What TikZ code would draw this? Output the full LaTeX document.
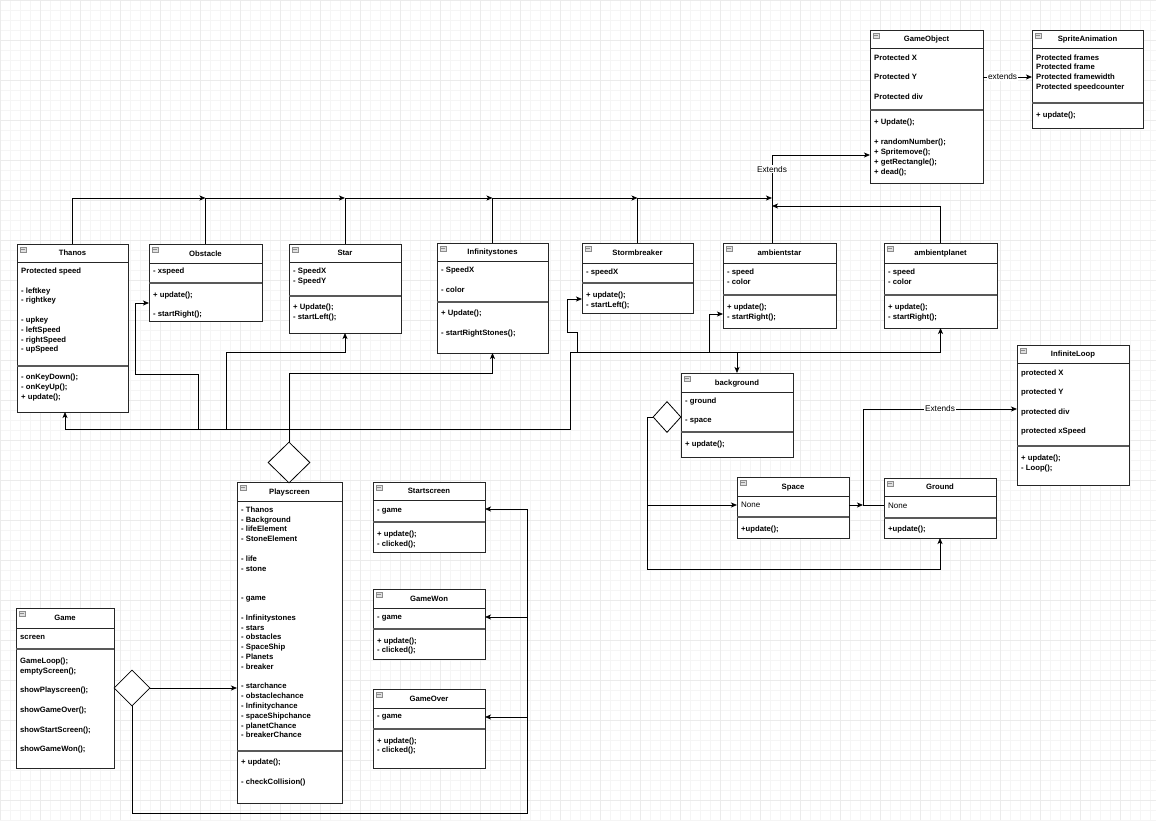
\documentclass[tikz,border=0pt]{standalone}
\usepackage{fontspec}
\setmainfont{Liberation Sans}
\usetikzlibrary{arrows.meta,shapes.geometric}
\tikzset{
  clsbox/.style={draw=black!85, fill=white, line width=0.9pt, inner sep=0pt, outer sep=0pt},
  hdrline/.style={draw=black!85, line width=0.8pt},
  sepline/.style={draw=black!65, line width=1.1pt},
  ttl/.style={font=\fontsize{7.7}{9}\selectfont\bfseries, inner sep=0pt, anchor=base},
  txt/.style={font=\fontsize{7.7}{9}\selectfont\bfseries, inner sep=0pt, anchor=base west},
  txtn/.style={font=\fontsize{8}{9}\selectfont, inner sep=0pt, anchor=base west},
  lbl/.style={font=\fontsize{8.3}{9}\selectfont, fill=white, inner sep=1pt},
  conn/.style={draw=black, line width=0.8pt},
  arr/.style={conn, -{Stealth[length=6pt,width=5pt,inset=1.5pt]}},
  agg/.style={diamond, draw=black, fill=white, line width=0.8pt, inner sep=0pt, aspect=1},
  icon/.style={draw=black!45, fill=black!12, line width=0.4pt},
}
\newcommand\umlclass[8]{%
  \node[clsbox, minimum width={(#4-#2)*1pt}, minimum height={(#5-#3)*1pt}] (#1) at ({(#2+#4)/2},{(#3+#5)/2}) {};
  \draw[hdrline] (#2,#6) -- (#4,#6);
  \draw[sepline] (#2,#7) -- (#4,#7);
  \draw[icon] (#2+3,#3+3) rectangle (#2+9,#3+8);
  \draw[draw=black!45, line width=0.4pt] (#2+4,#3+5.5) -- (#2+8,#3+5.5);
  \node[ttl] (#1-title) at ({(#2+#4)/2},{(#3+#6)/2+2.8}) {#8};
}
\newcommand\umllines[3]{%
  \foreach \ypos/\ltext in {#3} {\node[txt] (#1-l\ypos) at (#2,\ypos+2.8) {\ltext};}
}
\begin{document}
\begin{tikzpicture}[x=1pt,y=-1pt]
\useasboundingbox (0,0) rectangle (1156,820);
\fill[white] (0,0) rectangle (1156,820);
\draw[step=10pt, draw=black!4, line width=0.4pt] (0,0) grid (1156,820);
\draw[step=40pt, draw=black!8, line width=0.4pt] (0,0) grid (1156,820);

% ---------- classes ----------
\umlclass{gameobject}{870}{30}{983}{183}{48}{110}{GameObject}
\umllines{gameobject}{874}{58/Protected X, 77/Protected Y, 97/Protected div, 122/+ Update();, 142/+ randomNumber();, 152/+ Spritemove();, 162/+ getRectangle();, 172/+ dead();}

\umlclass{spriteanim}{1032}{30}{1143}{128}{48}{103}{SpriteAnimation}
\umllines{spriteanim}{1036}{58/Protected frames, 67/Protected frame, 77/Protected framewidth, 87/Protected speedcounter, 115/+ update();}

\umlclass{thanos}{17}{244}{128}{412}{262}{366}{Thanos}
\umllines{thanos}{21}{271/Protected speed, 291/- leftkey, 300/- rightkey, 320/- upkey, 330/- leftSpeed, 340/- rightSpeed, 349/- upSpeed, 377/- onKeyDown();, 387/- onKeyUp();, 397/+ update();}

\umlclass{obstacle}{149}{244}{262}{321}{263}{283}{Obstacle}
\umllines{obstacle}{153}{271/- xspeed, 295/+ update();, 314/- startRight();}

\umlclass{star}{289}{244}{401}{333}{262}{296}{Star}
\umllines{star}{293}{271/- SpeedX, 281/- SpeedY, 307/+ Update();, 317/- startLeft();}

\umlclass{infinity}{437}{243}{548}{353}{261}{302}{Infinitystones}
\umllines{infinity}{441}{270/- SpeedX, 290/- color, 313/+ Update();, 333/- startRightStones();}

\umlclass{storm}{582}{243}{693}{313}{263}{283}{Stormbreaker}
\umllines{storm}{586}{272/- speedX, 295/+ update();, 305/- startLeft();}

\umlclass{ambientstar}{723}{243}{836}{328}{263}{295}{ambientstar}
\umllines{ambientstar}{727}{272/- speed, 282/- color, 307/+ update();, 317/- startRight();}

\umlclass{ambientplanet}{884}{243}{997}{328}{263}{295}{ambientplanet}
\umllines{ambientplanet}{888}{272/- speed, 282/- color, 307/+ update();, 317/- startRight();}

\umlclass{background}{681}{373}{793}{457}{392}{432}{background}
\umllines{background}{685}{401/- ground, 420/- space, 444/+ update();}

\umlclass{infiniteloop}{1017}{345}{1129}{485}{363}{446}{InfiniteLoop}
\umllines{infiniteloop}{1021}{373/protected X, 392/protected Y, 412/protected div, 431/protected xSpeed, 458/+ update();, 468/- Loop();}

\umlclass{space}{737}{477}{849}{538}{496}{517}{Space}
\node[txtn] (space-none) at (741,507.8) {None};
\umllines{space}{741}{529/+update();}

\umlclass{ground}{884}{478}{996}{538}{496}{518}{Ground}
\node[txtn] (ground-none) at (888,508.8) {None};
\umllines{ground}{888}{529/+update();}

\umlclass{playscreen}{237}{482}{342}{803}{501}{751}{Playscreen}
\umllines{playscreen}{241}{510/- Thanos, 520/- Background, 529/- lifeElement, 539/- StoneElement, 559/- life, 569/- stone, 598/- game, 618/- Infinitystones, 628/- stars, 637/- obstacles, 647/- SpaceShip, 657/- Planets, 667/- breaker, 686/- starchance, 696/- obstaclechance, 706/- Infinitychance, 716/- spaceShipchance, 726/- planetChance, 735/- breakerChance, 762/+ update();, 782/- checkCollision()}

\umlclass{startscreen}{373}{482}{485}{552}{500}{522}{Startscreen}
\umllines{startscreen}{377}{510/- game, 534/+ update();, 544/- clicked();}

\umlclass{gamewon}{373}{589}{485}{659}{608}{629}{GameWon}
\umllines{gamewon}{377}{617/- game, 641/+ update();, 650/- clicked();}

\umlclass{gameover}{373}{689}{485}{768}{708}{729}{GameOver}
\umllines{gameover}{377}{716/- game, 741/+ update();, 750/- clicked();}

\umlclass{game}{16}{608}{114}{768}{628}{649}{Game}
\umllines{game}{20}{637/screen, 661/GameLoop();, 671/emptyScreen();, 690/showPlayscreen();, 710/showGameOver();, 730/showStartScreen();, 749/showGameWon();}

% ---------- aggregation diamonds ----------
\node[agg, minimum width=42pt, minimum height=41pt] (pd) at (289,462.5) {};
\node[agg, minimum width=28pt, minimum height=31pt] (bd) at (667,417) {};
\node[agg, minimum width=36pt, minimum height=36pt] (gd) at (132,688) {};

% ---------- junction coordinates ----------
\coordinate (asTop) at (772,243);
\coordinate (hubL) at (570,352);
\coordinate (hubB) at (570,429);
\coordinate (thB) at (65,412);
\coordinate (bx) at (647,505);
\coordinate (gx) at (863,505);
\coordinate (sx) at (527,509);

% ---------- inheritance chain to GameObject ----------
\draw[arr] (thanos.north) |- (obstacle.north |- 0,198);
\draw[arr] (obstacle.north) |- (star.north |- 0,198);
\draw[arr] (star.north) |- (infinity.north |- 0,198);
\draw[arr] (infinity.north) |- (storm.north |- 0,198);
\draw[arr] (storm.north) |- (asTop |- 0,198);
\draw[arr] (asTop) |- (gameobject.west |- 0,155) node[lbl, pos=0.42] {Extends};
\draw[arr] (ambientplanet.north) |- (asTop |- 0,206);
\draw[arr] (gameobject.east |- 0,77) -- (spriteanim.west |- 0,77) node[lbl, pos=0.4] {extends};

% ---------- Playscreen aggregation tree ----------
\draw[arr] (pd.north) |- (infinity.south |- 0,373) -- (infinity.south);
\draw[arr] (hubL) -- (hubB) -| (thB);
\draw[arr] (hubL) -| (ambientplanet.south);
\draw[arr] (198,429) |- (135,374) |- (obstacle.west |- 0,303);
\draw[arr] (226,429) |- (star.south |- 0,352) -- (star.south);
\draw[arr] (577,352) |- (567,332) |- (storm.west |- 0,299);
\draw[arr] (709,352) |- (ambientstar.west |- 0,314);
\draw[arr] (background.north |- 0,352) -- (background.north);

% ---------- background aggregation ----------
\draw[arr] (bd.west) -- (647,417) -- (647,569) -| (ground.south);
\draw[arr] (bx) -- (space.west |- bx);
\draw[arr] (space.east |- gx) -- (gx);
\draw[arr] (ground.west |- gx) -- (gx) |- (infiniteloop.west |- 0,409) node[lbl, pos=0.75] {Extends};

% ---------- Game aggregation ----------
\draw[arr] (gd.east) -- (playscreen.west |- gd.east);
\draw[arr] (gd.south) |- (527,813) |- (startscreen.east |- sx);
\draw[arr] (527,617) -- (gamewon.east |- 0,617);
\draw[arr] (527,717) -- (gameover.east |- 0,717);
\end{tikzpicture}
\end{document}
